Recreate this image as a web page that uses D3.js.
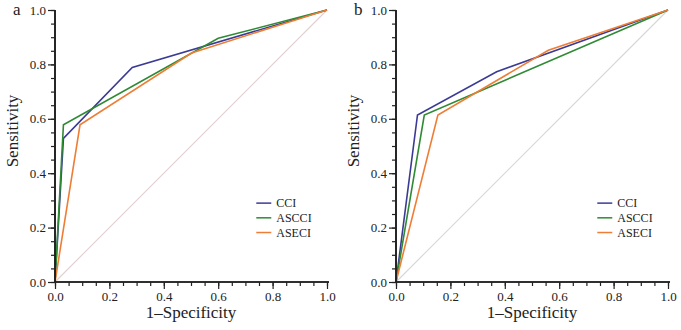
<!DOCTYPE html>
<html>
<head>
<meta charset="utf-8">
<script src="https://cdn.jsdelivr.net/npm/d3@7"></script>
<style>
  body { margin: 0; background: #fff; }
  text { font-family: "Liberation Serif", "Times New Roman", serif; fill: #222; }
</style>
</head>
<body>
<div id="chart"></div>
<script>
// ROC points: [1-specificity, sensitivity]
const seriesNames = ["CCI", "ASCCI", "ASECI"];
const seriesColors = ["#3b3b95", "#2f8a34", "#ee7d35"];

const panelA_CCI   = [[0, 0], [0.031, 0.528], [0.284, 0.789], [1, 1]];
const panelA_ASCCI = [[0, 0], [0.031, 0.578], [0.600, 0.896], [1, 1]];
const panelA_ASECI = [[0, 0], [0.092, 0.578], [0.502, 0.842], [1, 1]];

const panelB_CCI   = [[0, 0], [0.079, 0.614], [0.370, 0.773], [1, 1]];
const panelB_ASCCI = [[0, 0], [0.104, 0.614], [1, 1]];
const panelB_ASECI = [[0, 0], [0.154, 0.614], [0.560, 0.852], [1, 1]];

const majorTicks = [0, 0.2, 0.4, 0.6, 0.8, 1.0];
const minorTicks = d3.range(0, 1.0001, 0.05);

const panels = [
  {label: "a", left: 55, diag: "#e2cfcf", data: [panelA_CCI, panelA_ASCCI, panelA_ASECI]},
  {label: "b", left: 396, diag: "#d6d6d6", data: [panelB_CCI, panelB_ASCCI, panelB_ASECI]}
];

const width = 681, height = 330;
const plotW = 272, marginTop = 10, plotH = 272;

const svg = d3.select("#chart")
  .append("svg")
    .attr("width", width)
    .attr("height", height);

panels.forEach(function(p) {
  const g = svg.append("g")
    .attr("transform", `translate(${p.left},${marginTop})`);

  const x = d3.scaleLinear().domain([0, 1]).range([0, plotW]);
  const y = d3.scaleLinear().domain([0, 1]).range([plotH, 0]);

  // reference diagonal
  g.append("line")
    .attr("x1", x(0)).attr("y1", y(0))
    .attr("x2", x(1)).attr("y2", y(1))
    .attr("stroke", p.diag)
    .attr("stroke-width", 1.1);

  const line = d3.line()
    .x(d => x(d[0]))
    .y(d => y(d[1]));

  p.data.forEach(function(s, i) {
    g.append("path")
      .datum(s)
      .attr("fill", "none")
      .attr("stroke", seriesColors[i])
      .attr("stroke-width", 1.6)
      .attr("d", line);
  });

  // axes: minor ticks first, then major ones with labels
  const xMinor = g.append("g")
    .attr("transform", `translate(0,${plotH})`)
    .call(d3.axisBottom(x).tickValues(minorTicks).tickSize(4).tickFormat(""));
  const yMinor = g.append("g")
    .call(d3.axisLeft(y).tickValues(minorTicks).tickSize(4).tickFormat(""));

  const xAxis = g.append("g")
    .attr("transform", `translate(0,${plotH})`)
    .call(d3.axisBottom(x).tickValues(majorTicks).tickSize(7).tickPadding(3)
      .tickFormat(d3.format(".1f")));
  const yAxis = g.append("g")
    .call(d3.axisLeft(y).tickValues(majorTicks).tickSize(7).tickPadding(2)
      .tickFormat(d3.format(".1f")));

  [xMinor, yMinor, xAxis, yAxis].forEach(function(a) {
    a.selectAll("path").attr("stroke", "#222").attr("stroke-width", 1.7)
      .attr("d", a === xMinor || a === xAxis ? `M0,0H${plotW + 2}` : `M0,0V${plotH}`);
    a.selectAll("line").attr("stroke", "#222").attr("stroke-width", 1.2);
    a.selectAll("text")
      .style("font-family", "'Liberation Serif', serif")
      .style("font-size", "13px")
      .attr("fill", "#222");
  });

  // axis titles
  g.append("text")
    .attr("x", plotW / 2)
    .attr("y", plotH + 36)
    .attr("text-anchor", "middle")
    .style("font-size", "17px")
    .text("1\u2013Specificity");

  g.append("text")
    .attr("transform", `translate(-37,${plotH / 2 - 15}) rotate(-90)`)
    .attr("text-anchor", "middle")
    .style("font-size", "17px")
    .text("Sensitivity");

  // panel letter
  g.append("text")
    .attr("x", -42)
    .attr("y", 5)
    .style("font-size", "17px")
    .text(p.label);

  // legend
  const leg = g.append("g").attr("transform", `translate(${x(0.74)},${y(0.29)})`);
  seriesNames.forEach(function(name, i) {
    leg.append("line")
      .attr("x1", 0).attr("x2", 15)
      .attr("y1", i * 14.7).attr("y2", i * 14.7)
      .attr("stroke", seriesColors[i])
      .attr("stroke-width", 1.5);
    leg.append("text")
      .attr("x", 20)
      .attr("y", i * 14.7 + 4)
      .style("font-size", "12px")
      .text(name);
  });
});
</script>
</body>
</html>
